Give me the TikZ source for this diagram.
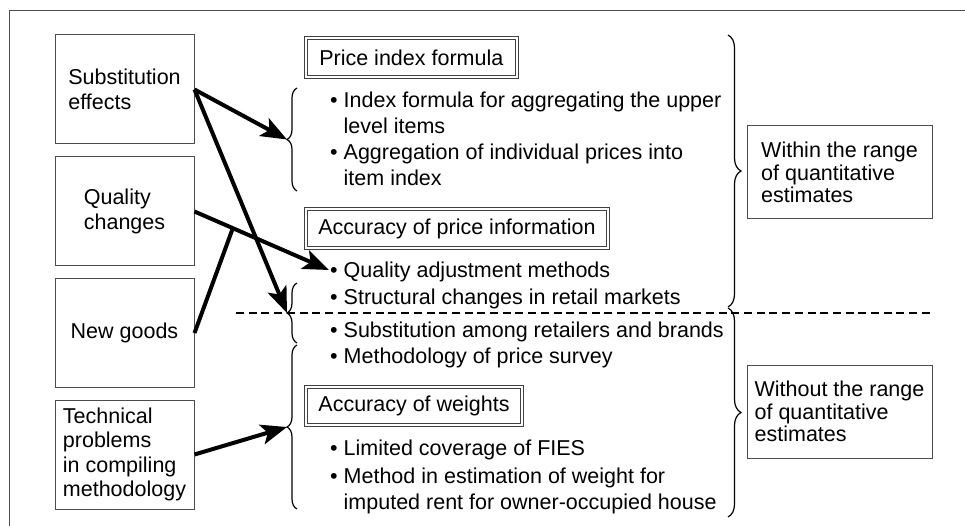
\documentclass[tikz,border=0pt]{standalone}
\usepackage{fontspec}
\setmainfont{Liberation Sans}
\usetikzlibrary{arrows.meta,decorations.pathreplacing,calc}
\begin{document}
\begin{tikzpicture}[x=1pt,y=-1pt,
  every node/.style={text=black},
  cause/.style={draw=black!70,line width=1pt,minimum width=139pt,minimum height=109pt,
    align=left,inner sep=0pt,font=\fontsize{21.5}{24.5}\selectfont},
  rangebox/.style={draw=black!70,line width=1pt,minimum width=185pt,minimum height=93pt,
    align=left,inner sep=0pt,font=\fontsize{21.5}{22.8}\selectfont},
  headbox/.style={draw=black!75,line width=1pt,double,double distance=2pt,minimum height=39pt,
    inner sep=0pt,font=\fontsize{21.5}{24}\selectfont},
  item/.style={anchor=base west,inner sep=0pt,font=\fontsize{21.5}{24}\selectfont},
  bigarrow/.style={line width=4pt,-{Stealth[length=26pt,width=20pt,inset=6pt]}},
  bigline/.style={line width=4pt},
  lbrace/.style={decorate,decoration={brace,amplitude=10pt},line width=1.2pt},
  rbrace/.style={decorate,decoration={brace,amplitude=13pt},line width=1.2pt},
]
\useasboundingbox (0,0) rectangle (965,526);
% frame
\draw[black!70,line width=1pt] (965,10.5) -- (9.5,10.5) -- (9.5,526);

% cause boxes
\node[cause] (subst) at (124.5,89.5) {Substitution\\effects};
\node[cause] (qual) at (124.5,211.5) {Quality\\changes};
\node[cause,minimum height=108pt] (newg) at (124.5,333) {New goods};
\node[cause] (tech) at (124.5,454.5) {Technical\\problems\\in compiling\\methodology};

% heading boxes
\node[headbox,minimum width=210.7pt] (pif) at (411.3,57.5) {Price index formula};
\node[headbox,minimum width=302pt] (api) at (457,228.5) {Accuracy of price information};
\node[headbox,minimum width=216pt,minimum height=38pt] (aw) at (414,406) {Accuracy of weights};

% items
\node[item] (i1a) at (330,108) {\makebox[13.5pt][l]{\textbullet}Index formula for aggregating the upper};
\node[item] (i1b) at (343.5,134) {level items};
\node[item] (i2a) at (330,160) {\makebox[13.5pt][l]{\textbullet}Aggregation of individual prices into};
\node[item] (i2b) at (343.5,186) {item index};
\node[item] (i3) at (330,278) {\makebox[13.5pt][l]{\textbullet}Quality adjustment methods};
\node[item] (i4) at (330,305) {\makebox[13.5pt][l]{\textbullet}Structural changes in retail markets};
\node[item] (i5) at (330,337) {\makebox[13.5pt][l]{\textbullet}Substitution among retailers and brands};
\node[item] (i6) at (330,363) {\makebox[13.5pt][l]{\textbullet}Methodology of price survey};
\node[item] (i7) at (330,455) {\makebox[13.5pt][l]{\textbullet}Limited coverage of FIES};
\node[item] (i8a) at (330,483) {\makebox[13.5pt][l]{\textbullet}Method in estimation of weight for};
\node[item] (i8b) at (343.5,509) {imputed rent for owner-occupied house};

% range boxes
\node[rangebox] (within) at (839.5,172.5) {Within the range\\of quantitative\\estimates};
\node[rangebox] (without) at (839.5,411.5) {Without the range\\of quantitative\\estimates};

% braces
\draw[lbrace] (297,191) -- (297,88);
\coordinate (b1) at (287,139.5);
\draw[lbrace] (297,343) -- (297,283);
\coordinate (b2) at (287,313);
\draw[lbrace] (297,509) -- (297,345);
\coordinate (b3) at (287,427);
\draw[rbrace] (728,35) -- (728,307);
\draw[rbrace] (728,308) -- (728,517);

% dashed divider
\coordinate (dl) at (236,313);
\coordinate (dr) at (930,313);
\draw[line width=1.8pt,dash pattern=on 8pt off 4.7pt] (dl) -- (dr);

% arrows
\coordinate (qtip) at (329,270);
\draw[bigarrow] (subst.east) -- (b1);
\draw[bigarrow] (subst.east) -- (b2);
\draw[bigarrow] (qual.east) -- (qtip);
\coordinate (join) at ($(qual.east)!0.285!(qtip)$);
\draw[bigline] (newg.east) -- (join);
\draw[bigarrow] (tech.east) -- (b3);
\end{tikzpicture}
\end{document}
